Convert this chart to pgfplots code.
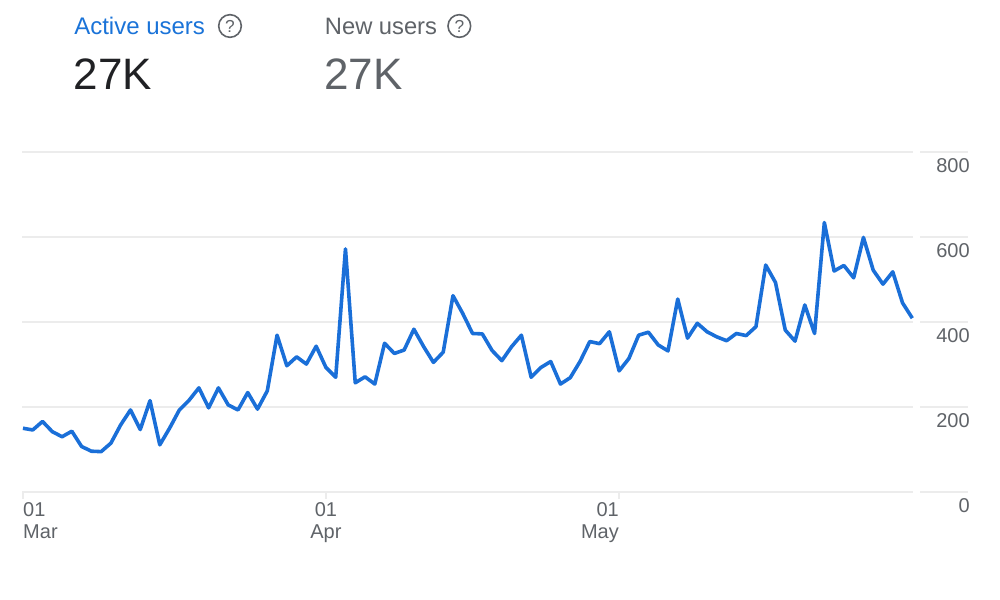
\documentclass[border=0pt]{standalone}
\usepackage{fontspec}
\setmainfont{Liberation Sans}
\usepackage{pgfplots}
\pgfplotsset{compat=1.18}
\definecolor{linec}{HTML}{1A6FD8}
\definecolor{activec}{HTML}{1A73D8}
\definecolor{graytx}{HTML}{5F6368}
\definecolor{darktx}{HTML}{202124}
\definecolor{gridc}{HTML}{ECECEC}
\begin{document}
\begin{tikzpicture}[x=1pt,y=1pt]
\useasboundingbox (0pt,0pt) rectangle (750pt,450pt);
\node[anchor=base west,inner sep=0,text=activec,font=\fontsize{18}{20}\selectfont] at (55.5pt,424pt) {Active users};
\node[anchor=base west,inner sep=0,text=graytx,font=\fontsize{17.8}{20}\selectfont] at (243.5pt,424pt) {New users};
\node[anchor=base west,inner sep=0,text=darktx,font=\fontsize{33}{38}\selectfont] at (55pt,382.5pt) {27K};
\node[anchor=base west,inner sep=0,text=graytx,font=\fontsize{33}{38}\selectfont] at (243pt,382.5pt) {27K};
\node[circle,draw=graytx,line width=1.2pt,minimum size=17pt,inner sep=0,text=graytx,font=\fontsize{13}{14}\selectfont] at (172.5pt,430.5pt) {?};
\node[circle,draw=graytx,line width=1.2pt,minimum size=17pt,inner sep=0,text=graytx,font=\fontsize{13}{14}\selectfont] at (344.5pt,430.5pt) {?};
\begin{axis}[
  at={(16.5pt,81pt)},anchor=south west,
  scale only axis,width=709.5pt,height=255pt,
  xmin=-0.1,xmax=96.7,ymin=0,ymax=800,
  clip=false,
  axis line style={draw=none},
  ymajorgrids,
  grid style={gridc,line width=1.1pt},
  ytick={0,200,400,600,800},
  xtick={0,31,61},
  xticklabels={},
  ytick pos=right,
  yticklabel pos=right,
  major tick length=0pt,
  tick style={draw=none},
  /pgf/number format/assume math mode=true,
  yticklabel style={anchor=north east,inner sep=0,xshift=1.5pt,yshift=-4.4pt,
    text=graytx,font=\fontsize{15}{16}\selectfont},
]
\fill[white] (axis cs:91.05,-15) rectangle (axis cs:91.75,810);
\draw[gridc,line width=1.1pt] (axis cs:0,0) -- (axis cs:0,-16);
\draw[gridc,line width=1.1pt] (axis cs:31,0) -- (axis cs:31,-16);
\draw[gridc,line width=1.1pt] (axis cs:61,0) -- (axis cs:61,-16);
\addplot[linec,line width=2.7pt,mark=none,line join=round] coordinates {
(0,150)(1,146)(2,166)(3,142)(4,130)(5,143)(6,107)(7,96)(8,95)(9,115)
(10,158)(11,193)(12,147)(13,215)(14,111)(15,150)(16,193)(17,216)(18,245)(19,198)
(20,245)(21,205)(22,193)(23,234)(24,195)(25,238)(26,369)(27,297)(28,318)(29,301)
(30,343)(31,293)(32,270)(33,572)(34,257)(35,271)(36,254)(37,350)(38,326)(39,334)
(40,383)(41,342)(42,305)(43,329)(44,462)(45,420)(46,373)(47,372)(48,333)(49,309)
(50,342)(51,369)(52,270)(53,293)(54,307)(55,254)(56,269)(57,307)(58,354)(59,349)
(60,377)(61,285)(62,314)(63,369)(64,376)(65,346)(66,332)(67,454)(68,362)(69,397)
(70,377)(71,365)(72,356)(73,373)(74,368)(75,389)(76,534)(77,493)(78,381)(79,355)
(80,440)(81,373)(82,634)(83,520)(84,533)(85,504)(86,599)(87,522)(88,489)(89,518)
(90,445)(91,409)};
\node[anchor=base west,inner sep=0,text=graytx,font=\fontsize{15}{16}\selectfont] at (axis cs:0,-58) {01};
\node[anchor=base west,inner sep=0,text=graytx,font=\fontsize{15}{16}\selectfont] at (axis cs:0,-109) {Mar};
\node[anchor=base,inner sep=0,text=graytx,font=\fontsize{15}{16}\selectfont] at (axis cs:31,-58) {01};
\node[anchor=base,inner sep=0,text=graytx,font=\fontsize{15}{16}\selectfont] at (axis cs:31,-109) {Apr};
\node[anchor=base east,inner sep=0,text=graytx,font=\fontsize{15}{16}\selectfont] at (axis cs:61,-58) {01};
\node[anchor=base east,inner sep=0,text=graytx,font=\fontsize{15}{16}\selectfont] at (axis cs:61,-109) {May};
\end{axis}
\end{tikzpicture}
\end{document}
